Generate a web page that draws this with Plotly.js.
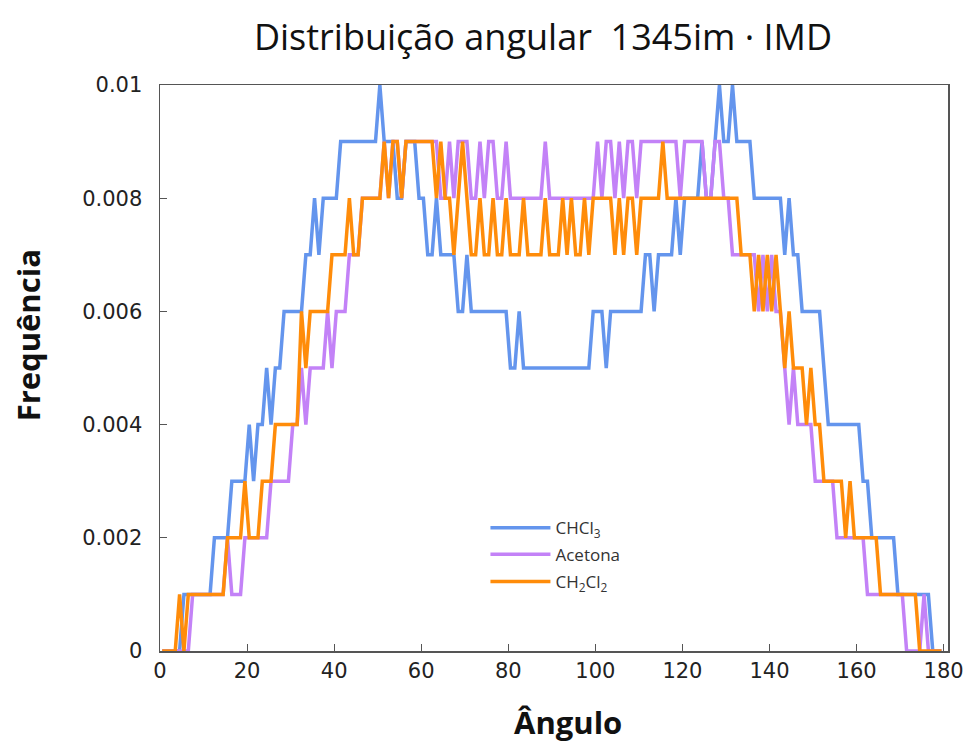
<!DOCTYPE html>
<html>
<head>
<meta charset="utf-8">
<script src="https://cdn.plot.ly/plotly-3.0.1.min.js"></script>
<style>html,body{margin:0;padding:0;background:#fff;}#chart{width:971px;height:742px;}</style>
</head>
<body>
<div id="chart"></div>
<script>
// Bin centres of the 1-degree angular histogram (0.5, 1.5, ... 179.5)
const angles = Array.from({length: 180}, (_, i) => i + 0.5);

const seriesNames = ['CHCl<sub>3</sub>', 'Acetona', 'CH<sub>2</sub>Cl<sub>2</sub>'];

const chcl3 = [
  0,0,0,0,0,0.001,0.001,0.001,0.001,0.001,
  0.001,0.001,0.002,0.002,0.002,0.002,0.003,0.003,0.003,0.003,
  0.004,0.003,0.004,0.004,0.005,0.004,0.005,0.005,0.006,0.006,
  0.006,0.006,0.006,0.007,0.007,0.008,0.007,0.008,0.008,0.008,
  0.008,0.009,0.009,0.009,0.009,0.009,0.009,0.009,0.009,0.009,
  0.010,0.009,0.009,0.009,0.008,0.008,0.009,0.009,0.009,0.008,
  0.008,0.007,0.007,0.008,0.007,0.007,0.007,0.007,0.006,0.006,
  0.007,0.006,0.006,0.006,0.006,0.006,0.006,0.006,0.006,0.006,
  0.005,0.005,0.006,0.005,0.005,0.005,0.005,0.005,0.005,0.005,
  0.005,0.005,0.005,0.005,0.005,0.005,0.005,0.005,0.005,0.006,
  0.006,0.006,0.005,0.006,0.006,0.006,0.006,0.006,0.006,0.006,
  0.006,0.007,0.007,0.006,0.007,0.007,0.007,0.007,0.008,0.007,
  0.008,0.008,0.008,0.008,0.009,0.008,0.008,0.009,0.010,0.009,
  0.009,0.010,0.009,0.009,0.009,0.009,0.008,0.008,0.008,0.008,
  0.008,0.008,0.008,0.007,0.008,0.007,0.007,0.006,0.006,0.006,
  0.006,0.006,0.005,0.004,0.004,0.004,0.004,0.004,0.004,0.004,
  0.004,0.003,0.003,0.002,0.002,0.002,0.002,0.002,0.002,0.001,
  0.001,0.001,0.001,0.001,0.001,0.001,0.001,0,0,0
];

const acetona = [
  0,0,0,0,0,0,0,0.001,0.001,0.001,
  0.001,0.001,0.001,0.001,0.001,0.002,0.001,0.001,0.001,0.002,
  0.002,0.002,0.002,0.002,0.002,0.003,0.003,0.003,0.003,0.003,
  0.004,0.004,0.005,0.004,0.005,0.005,0.005,0.005,0.006,0.005,
  0.006,0.006,0.006,0.007,0.007,0.007,0.008,0.008,0.008,0.008,
  0.008,0.009,0.008,0.009,0.009,0.008,0.009,0.009,0.009,0.009,
  0.009,0.009,0.009,0.009,0.008,0.008,0.009,0.008,0.009,0.009,
  0.009,0.008,0.008,0.009,0.008,0.009,0.009,0.008,0.008,0.009,
  0.008,0.008,0.008,0.008,0.008,0.008,0.008,0.008,0.009,0.008,
  0.008,0.008,0.008,0.008,0.008,0.008,0.008,0.008,0.008,0.008,
  0.009,0.008,0.009,0.009,0.008,0.009,0.008,0.009,0.009,0.008,
  0.009,0.009,0.009,0.009,0.009,0.009,0.009,0.009,0.009,0.008,
  0.009,0.009,0.009,0.009,0.009,0.008,0.008,0.009,0.009,0.008,
  0.008,0.007,0.007,0.007,0.007,0.007,0.007,0.006,0.007,0.006,
  0.007,0.006,0.006,0.005,0.004,0.005,0.004,0.004,0.004,0.004,
  0.003,0.003,0.003,0.003,0.003,0.002,0.002,0.002,0.002,0.002,
  0.002,0.002,0.001,0.001,0.001,0.001,0.001,0.001,0.001,0.001,
  0.001,0,0,0,0,0.001,0,0,0,0
];

const ch2cl2 = [
  0,0,0,0,0.001,0,0.001,0.001,0.001,0.001,
  0.001,0.001,0.001,0.001,0.001,0.002,0.002,0.002,0.002,0.003,
  0.002,0.002,0.002,0.003,0.003,0.003,0.004,0.004,0.004,0.004,
  0.004,0.004,0.006,0.005,0.006,0.006,0.006,0.006,0.006,0.007,
  0.007,0.007,0.007,0.008,0.007,0.007,0.008,0.008,0.008,0.008,
  0.008,0.009,0.008,0.009,0.009,0.008,0.009,0.009,0.009,0.009,
  0.009,0.009,0.009,0.008,0.009,0.008,0.008,0.007,0.008,0.009,
  0.008,0.007,0.007,0.008,0.007,0.007,0.008,0.007,0.007,0.008,
  0.007,0.007,0.007,0.008,0.007,0.007,0.007,0.007,0.008,0.007,
  0.007,0.007,0.008,0.007,0.008,0.007,0.007,0.008,0.007,0.008,
  0.008,0.008,0.008,0.008,0.007,0.008,0.007,0.008,0.008,0.007,
  0.008,0.008,0.008,0.008,0.008,0.009,0.008,0.008,0.008,0.008,
  0.008,0.008,0.008,0.008,0.008,0.008,0.008,0.008,0.008,0.008,
  0.008,0.008,0.008,0.007,0.007,0.007,0.006,0.007,0.006,0.007,
  0.006,0.007,0.006,0.005,0.006,0.005,0.005,0.005,0.004,0.005,
  0.004,0.004,0.003,0.003,0.003,0.003,0.003,0.002,0.003,0.002,
  0.002,0.002,0.002,0.002,0.002,0.001,0.001,0.001,0.001,0.001,
  0.001,0.001,0.001,0.001,0,0,0,0,0,0
];

const xTicks = [0, 20, 40, 60, 80, 100, 120, 140, 160, 180];
const yTicks = [0, 0.002, 0.004, 0.006, 0.008, 0.01];
const yTickLabels = ['0', '0.002', '0.004', '0.006', '0.008', '0.01'];

const colors = ['#6495ED', '#C382F7', '#FF8C0A'];
const legendIds = ['legend', 'legend2', 'legend3'];
const data = [chcl3, acetona, ch2cl2].map((ys, k) => ({
  type: 'scatter', mode: 'lines', x: angles, y: ys, name: seriesNames[k],
  legend: legendIds[k],
  line: {color: colors[k], width: 3.5}
}));

const legendStyle = (yPos) => ({
  x: 0.413, y: yPos, xanchor: 'left', yanchor: 'middle', bgcolor: 'rgba(0,0,0,0)',
  itemwidth: 60,
  font: {family: 'Open Sans, sans-serif', size: 17, color: '#333'}
});

const layout = {
  width: 971, height: 742,
  margin: {l: 160, r: 23, t: 85, b: 91},
  paper_bgcolor: '#ffffff', plot_bgcolor: '#ffffff',
  font: {family: 'DejaVu Sans, sans-serif', color: '#222'},
  title: {text: 'Distribuição angular  1345im · IMD', x: 0.486, xref: 'paper', xanchor: 'center',
          y: 0.949, yref: 'container', yanchor: 'middle',
          font: {family: 'Open Sans, sans-serif', size: 36, color: '#111'}},
  xaxis: {range: [0, 181], tickvals: xTicks, ticks: 'inside', ticklen: 7, tickcolor: '#555',
          showline: true, linecolor: '#555', linewidth: 1.5, mirror: true, showgrid: false, zeroline: false,
          tickfont: {size: 21, color: '#222'}},
  yaxis: {range: [0, 0.01], tickvals: yTicks, ticktext: yTickLabels, ticks: 'inside', ticklen: 7, tickcolor: '#555',
          showline: true, linecolor: '#555', linewidth: 1.5, mirror: true, showgrid: false, zeroline: false,
          tickfont: {size: 21, color: '#222'}, ticklabelstandoff: 12},
  annotations: [
    {text: '<b>Ângulo</b>', xref: 'paper', yref: 'paper', x: 0.518, y: -0.125, xanchor: 'center', yanchor: 'middle',
     showarrow: false, font: {family: 'Open Sans, sans-serif', size: 31, color: '#111'}},
    {text: '<b>Frequência</b>', xref: 'paper', yref: 'paper', x: -0.168, y: 0.557, xanchor: 'center', yanchor: 'middle',
     textangle: -90, showarrow: false, font: {family: 'Open Sans, sans-serif', size: 31, color: '#111'}}
  ],
  legend: legendStyle(0.217),
  legend2: legendStyle(0.170),
  legend3: legendStyle(0.122),
  showlegend: true
};

Plotly.newPlot('chart', data, layout, {displayModeBar: false, staticPlot: true});
</script>
</body>
</html>
